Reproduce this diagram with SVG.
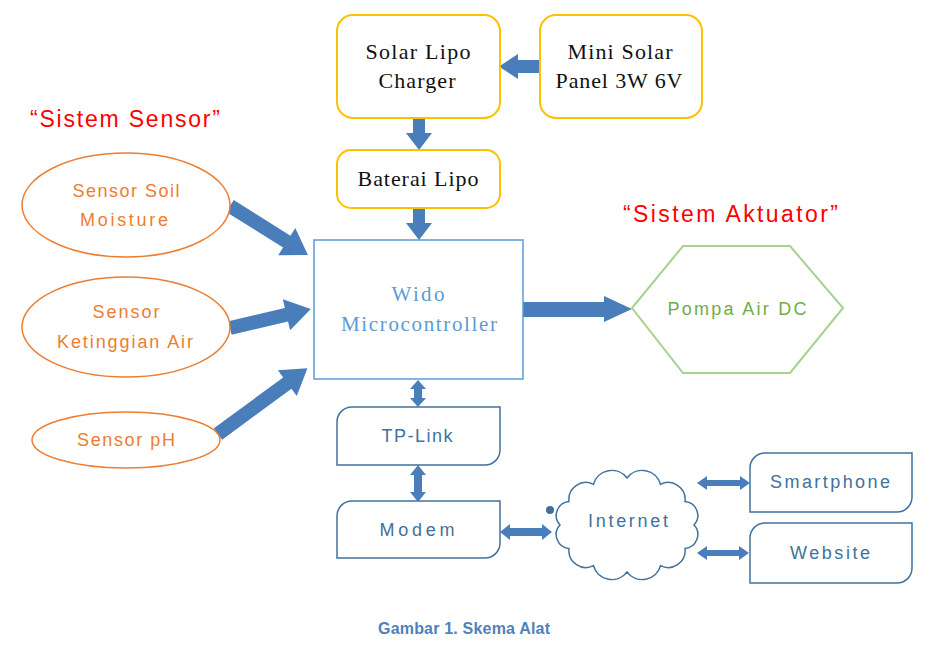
<svg xmlns="http://www.w3.org/2000/svg" width="938" height="648" viewBox="0 0 938 648">
<style>
.ybox{fill:#fff;stroke:#FFC000;stroke-width:2}
.serif{font-family:"Liberation Serif","Times New Roman",serif;font-size:22px;fill:#111;text-anchor:middle}
.ell{fill:#fff;stroke:#ED7D31;stroke-width:1.5}
.otxt{font-family:"Liberation Sans",Arial,sans-serif;font-size:18px;fill:#ED7D31;text-anchor:middle}
.red{font-family:"Liberation Sans",Arial,sans-serif;font-size:23px;fill:#FF0000}
.dbox{fill:#fff;stroke:#41719C;stroke-width:1.5}
.dtxt{font-family:"Liberation Sans",Arial,sans-serif;font-size:18px;fill:#41719C;text-anchor:middle}
.arr{fill:#4A7EBB}
</style>
<rect width="938" height="648" fill="#fff"/>

<g id="connectors">
  <!-- Mini Solar -> Charger -->
  <polygon class="arr" points="540,60 518,60 518,54 499,66.5 518,79 518,73 540,73"/>
  <!-- Charger -> Baterai -->
  <polygon class="arr" points="413,118 425,118 425,133 432,133 419,150 406,133 413,133"/>
  <!-- Baterai -> Wido -->
  <polygon class="arr" points="413,208 425,208 425,223 432,223 419,240 406,223 413,223"/>
  <!-- Sensors -> Wido -->
  <g transform="translate(230,206) rotate(32.1)"><polygon class="arr" points="0,-7 67,-7 67,-16 92,0 67,16 67,7 0,7"/></g>
  <g transform="translate(230,328) rotate(-13.2)"><polygon class="arr" points="0,-7 58,-7 58,-16 83,0 58,16 58,7 0,7"/></g>
  <g transform="translate(218,434) rotate(-36.3)"><polygon class="arr" points="0,-7 86,-7 86,-16 111,0 86,16 86,7 0,7"/></g>
  <!-- Wido -> Pompa -->
  <polygon class="arr" points="523,302 604,302 604,296 632,309 604,322 604,317 523,317"/>
  <!-- Wido <-> TP-Link -->
  <polygon class="arr" points="418,380 426,389 422,389 422,398 426,398 418,407 410,398 414,398 414,389 410,389"/>
  <!-- TP-Link <-> Modem -->
  <polygon class="arr" points="418,465 426,475 422,475 422,492 426,492 418,502 410,492 414,492 414,475 410,475"/>
  <!-- Modem <-> Internet -->
  <polygon class="arr" points="500,532 510,524 510,528 542,528 542,524 552,532 542,540 542,536 510,536 510,540"/>
  <!-- Internet <-> Smartphone -->
  <polygon class="arr" points="697,483 707,476 707,480 740,480 740,476 750,483 740,490 740,486 707,486 707,490"/>
  <!-- Internet <-> Website -->
  <polygon class="arr" points="697,553 707,546 707,550 739,550 739,546 749,553 739,560 739,556 707,556 707,560"/>
</g>

<g id="solar-lipo-charger">
  <rect class="ybox" x="337" y="15" width="163" height="103" rx="16"/>
  <text class="serif" x="418" y="59" textLength="105" lengthAdjust="spacing">Solar Lipo</text>
  <text class="serif" x="417" y="88" textLength="77" lengthAdjust="spacing">Charger</text>
</g>
<g id="mini-solar-panel">
  <rect class="ybox" x="540" y="15" width="162" height="103" rx="16"/>
  <text class="serif" x="620" y="59" textLength="105" lengthAdjust="spacing">Mini Solar</text>
  <text class="serif" x="619" y="88" textLength="127" lengthAdjust="spacing">Panel 3W 6V</text>
</g>
<g id="baterai-lipo">
  <rect class="ybox" x="337" y="150" width="163" height="58" rx="14"/>
  <text class="serif" x="418" y="186" textLength="121" lengthAdjust="spacing">Baterai Lipo</text>
</g>

<text class="red" x="30" y="127" textLength="190" lengthAdjust="spacing">“Sistem Sensor”</text>
<text class="red" x="623" y="222" textLength="215" lengthAdjust="spacing">“Sistem Aktuator”</text>

<g id="sensor-soil">
  <ellipse class="ell" cx="126" cy="205" rx="104" ry="52"/>
  <text class="otxt" x="126" y="197" textLength="107" lengthAdjust="spacing">Sensor Soil</text>
  <text class="otxt" x="124" y="226" textLength="88" lengthAdjust="spacing">Moisture</text>
</g>
<g id="sensor-ketinggian">
  <ellipse class="ell" cx="126" cy="327" rx="104" ry="50"/>
  <text class="otxt" x="126" y="318" textLength="67" lengthAdjust="spacing">Sensor</text>
  <text class="otxt" x="125" y="348" textLength="136" lengthAdjust="spacing">Ketinggian Air</text>
</g>
<g id="sensor-ph">
  <ellipse class="ell" cx="126" cy="440" rx="94" ry="28"/>
  <text class="otxt" x="126" y="446" textLength="98" lengthAdjust="spacing">Sensor pH</text>
</g>

<g id="wido">
  <rect x="314" y="240" width="209" height="139" fill="#fff" stroke="#5B9BD5" stroke-width="1.5"/>
  <text class="serif" x="418" y="301" textLength="53" lengthAdjust="spacing" style="fill:#5B9BD5;font-size:21px">Wido</text>
  <text class="serif" x="419" y="331" textLength="156" lengthAdjust="spacing" style="fill:#5B9BD5;font-size:21px">Microcontroller</text>
</g>

<g id="pompa">
  <polygon points="632,308 683,246 790,246 843,308 790,373 683,373" fill="#fff" stroke="#A9D18E" stroke-width="2"/>
  <text x="737" y="315" text-anchor="middle" font-family="Liberation Sans, Arial, sans-serif" font-size="18" fill="#70AD47" textLength="139" lengthAdjust="spacing">Pompa Air DC</text>
</g>

<g id="tp-link">
  <path class="dbox" d="M352,407 H500 V450 A15,15 0 0 1 485,465 H337 V422 A15,15 0 0 1 352,407 Z"/>
  <text class="dtxt" x="417" y="442" textLength="71" lengthAdjust="spacing">TP-Link</text>
</g>
<g id="modem">
  <path class="dbox" d="M352,501 H500 V543 A15,15 0 0 1 485,558 H337 V516 A15,15 0 0 1 352,501 Z"/>
  <text class="dtxt" x="417" y="536" textLength="75" lengthAdjust="spacing">Modem</text>
</g>

<g id="internet">
  <path class="dbox" d="M694,525 A14,14 0 0 1 685,548.5 A17,17 0 0 1 660.5,565.7 A19,19 0 0 1 627,572 A19,19 0 0 1 593.5,565.7 A17,17 0 0 1 569,548.5 A14,14 0 0 1 560,525 A14,14 0 0 1 569,501.5 A17,17 0 0 1 593.5,484.3 A19,19 0 0 1 627,478 A19,19 0 0 1 660.5,484.3 A17,17 0 0 1 685,501.5 A14,14 0 0 1 694,525 Z"/>
  <circle cx="550" cy="510" r="4" fill="#41719C"/>
  <text class="dtxt" x="628" y="527" textLength="80" lengthAdjust="spacing">Internet</text>
</g>

<g id="smartphone">
  <path class="dbox" d="M765,453 H912 V497 A15,15 0 0 1 897,512 H750 V468 A15,15 0 0 1 765,453 Z"/>
  <text class="dtxt" x="830" y="488" textLength="120" lengthAdjust="spacing">Smartphone</text>
</g>
<g id="website">
  <path class="dbox" d="M765,523 H912 V568 A15,15 0 0 1 897,583 H750 V538 A15,15 0 0 1 765,523 Z"/>
  <text class="dtxt" x="830" y="559" textLength="80" lengthAdjust="spacing">Website</text>
</g>

<text x="464" y="634" text-anchor="middle" font-family="Liberation Sans, Arial, sans-serif" font-size="16" font-weight="bold" fill="#4F81BD" textLength="172" lengthAdjust="spacing">Gambar 1. Skema Alat</text>
</svg>
